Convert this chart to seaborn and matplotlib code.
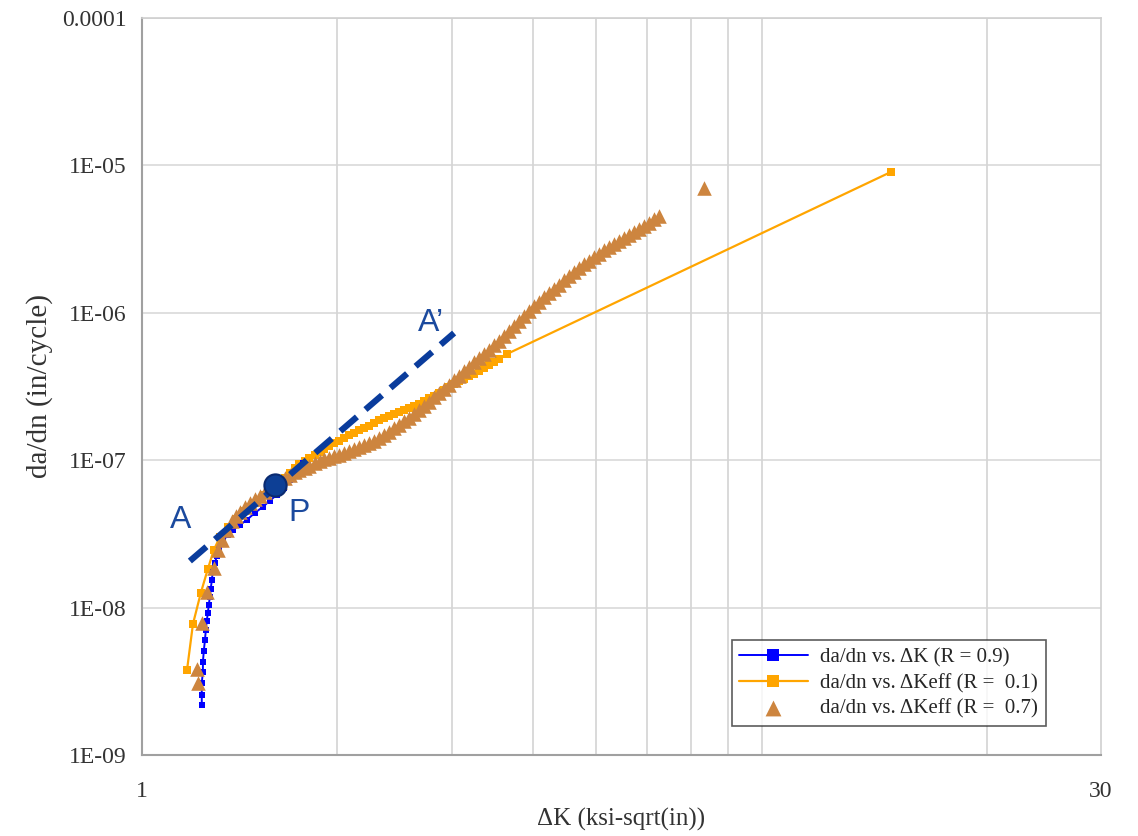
import matplotlib
matplotlib.use("Agg")
import matplotlib.pyplot as plt
import seaborn as sns
import pandas as pd

# da/dn vs dK (R = 0.9)
k_r09 = [1.236, 1.236, 1.236, 1.241, 1.241, 1.245, 1.250, 1.254, 1.258, 1.263, 1.267,
         1.272, 1.276, 1.281, 1.285, 1.295, 1.304, 1.313, 1.332, 1.356, 1.380, 1.414,
         1.450, 1.491, 1.534, 1.572, 1.612, 1.652, 1.688, 1.724, 1.767]
dadn_r09 = [2.18e-9, 2.55e-9, 3.08e-9, 3.66e-9, 4.28e-9, 5.08e-9, 6.03e-9, 7.05e-9, 8.11e-9,
            9.19e-9, 1.04e-8, 1.18e-8, 1.34e-8, 1.54e-8, 1.74e-8, 2.01e-8, 2.24e-8, 2.50e-8,
            2.83e-8, 3.11e-8, 3.36e-8, 3.63e-8, 3.93e-8, 4.38e-8, 4.81e-8, 5.29e-8, 5.81e-8,
            6.48e-8, 7.34e-8, 8.32e-8, 9.57e-8]

# da/dn vs dKeff (R = 0.1)
k_r01 = [1.173, 1.198, 1.232, 1.263, 1.290, 1.318, 1.356, 1.394, 1.439, 1.491, 1.545,
         1.601, 1.629, 1.658, 1.688, 1.718, 1.748, 1.780, 1.811, 1.844, 1.877, 1.910,
         1.944, 1.979, 2.014, 2.050, 2.087, 2.124, 2.162, 2.201, 2.240, 2.280, 2.320,
         2.362, 2.404, 2.447, 2.490, 2.535, 2.580, 2.626, 2.673, 2.721, 2.769, 2.819,
         2.869, 2.920, 2.972, 3.025, 3.079, 3.134, 3.190, 3.247, 3.304, 3.364, 3.423,
         3.485, 3.547, 3.649, 14.24]
dadn_r01 = [3.77e-9, 7.74e-9, 1.26e-8, 1.83e-8, 2.46e-8, 3.01e-8, 3.52e-8, 3.99e-8, 4.52e-8,
            5.12e-8, 5.81e-8, 6.58e-8, 7.06e-8, 7.57e-8, 8.19e-8, 8.85e-8, 9.35e-8, 9.88e-8,
            1.035e-7, 1.085e-7, 1.137e-7, 1.191e-7, 1.248e-7, 1.308e-7, 1.360e-7, 1.414e-7,
            1.471e-7, 1.530e-7, 1.590e-7, 1.654e-7, 1.719e-7, 1.788e-7, 1.859e-7, 1.934e-7,
            1.995e-7, 2.058e-7, 2.123e-7, 2.191e-7, 2.260e-7, 2.332e-7, 2.424e-7, 2.521e-7,
            2.622e-7, 2.727e-7, 2.858e-7, 2.994e-7, 3.138e-7, 3.289e-7, 3.420e-7, 3.556e-7,
            3.698e-7, 3.843e-7, 4.030e-7, 4.222e-7, 4.427e-7, 4.637e-7, 4.863e-7, 5.254e-7,
            9.02e-6]

# da/dn vs dKeff (R = 0.7)
k_r07 = [1.219, 1.215, 1.236, 1.258, 1.290, 1.308,
         1.327, 1.351, 1.375, 1.394, 1.414, 1.439, 1.465, 1.491, 1.518, 1.545, 1.572,
         1.600, 1.629, 1.658, 1.688, 1.718, 1.748, 1.780, 1.811, 1.844, 1.877, 1.910,
         1.944, 1.979, 2.014, 2.050, 2.087, 2.124, 2.162, 2.200, 2.240, 2.279, 2.320,
         2.362, 2.404, 2.447, 2.490, 2.535, 2.580, 2.626, 2.673, 2.720, 2.769, 2.818,
         2.869, 2.920, 2.972, 3.025, 3.079, 3.134, 3.190, 3.247, 3.304, 3.363, 3.423,
         3.485, 3.547, 3.610, 3.674, 3.740, 3.807, 3.874, 3.944, 4.014, 4.086, 4.158,
         4.233, 4.308, 4.385, 4.463, 4.543, 4.624, 4.706, 4.790, 4.876, 4.963, 5.051,
         5.141, 5.233, 5.326, 5.421, 5.518, 5.617, 5.717, 5.819, 5.922, 6.028, 6.136,
         6.245, 7.351]
dadn_r07 = [3.08e-9, 3.83e-9, 7.86e-9, 1.276e-8, 1.857e-8, 2.46e-8,
            2.874e-8, 3.335e-8, 3.868e-8, 4.150e-8, 4.453e-8, 4.777e-8, 5.125e-8, 5.413e-8,
            5.716e-8, 6.038e-8, 6.377e-8, 6.735e-8, 7.114e-8, 7.513e-8, 7.935e-8, 8.251e-8,
            8.580e-8, 8.853e-8, 9.134e-8, 9.498e-8, 9.876e-8, 1.011e-7, 1.035e-7, 1.060e-7,
            1.085e-7, 1.119e-7, 1.155e-7, 1.191e-7, 1.229e-7, 1.268e-7, 1.308e-7, 1.360e-7,
            1.414e-7, 1.482e-7, 1.553e-7, 1.641e-7, 1.733e-7, 1.830e-7, 1.933e-7, 2.058e-7,
            2.191e-7, 2.332e-7, 2.482e-7, 2.664e-7, 2.858e-7, 3.042e-7, 3.237e-7, 3.473e-7,
            3.727e-7, 3.999e-7, 4.291e-7, 4.604e-7, 4.940e-7, 5.258e-7, 5.596e-7, 6.000e-7,
            6.438e-7, 6.960e-7, 7.525e-7, 8.139e-7, 8.798e-7, 9.512e-7, 1.0285e-6, 1.1034e-6,
            1.1838e-6, 1.2702e-6, 1.3629e-6, 1.4505e-6, 1.5438e-6, 1.6564e-6, 1.7772e-6,
            1.8915e-6, 2.0135e-6, 2.1267e-6, 2.2462e-6, 2.3725e-6, 2.5055e-6, 2.6465e-6,
            2.7952e-6, 2.9292e-6, 3.0697e-6, 3.2168e-6, 3.3711e-6, 3.5327e-6, 3.7021e-6,
            3.8797e-6, 4.0658e-6, 4.2948e-6, 4.5360e-6, 7.03e-6]

# line A - A' and point P
k_line = [1.185, 3.025]
dadn_line = [2.07e-8, 7.29e-7]
k_p = [1.6005]
dadn_p = [6.79e-8]

series_labels = ["da/dn vs. \u0394K (R = 0.9)",
                 "da/dn vs. \u0394Keff (R =  0.1)",
                 "da/dn vs. \u0394Keff (R =  0.7)"]
ytick_vals = [1e-9, 1e-8, 1e-7, 1e-6, 1e-5, 1e-4]
ytick_labels = ["1E-09", "1E-08", "1E-07", "1E-06", "1E-05", "0.0001"]
xgrid_vals = [2, 3, 4, 5, 6, 7, 8, 9, 20]

sns.set_style("white")
plt.rcParams["font.family"] = ["Liberation Serif", "DejaVu Serif"]

fig, ax = plt.subplots(figsize=(11.38, 8.36), dpi=100)
fig.subplots_adjust(left=0.1248, right=0.9675, top=0.9785, bottom=0.0969)

df09 = pd.DataFrame({"k": k_r09, "v": dadn_r09})
df01 = pd.DataFrame({"k": k_r01, "v": dadn_r01})
df07 = pd.DataFrame({"k": k_r07, "v": dadn_r07})

sns.lineplot(data=df01, x="k", y="v", sort=False, estimator=None, color="#ffa500",
             marker="s", markersize=6, markeredgewidth=0, linewidth=1.6,
             label=series_labels[1], ax=ax, zorder=3)
sns.lineplot(data=df09, x="k", y="v", sort=False, estimator=None, color="#0000ff",
             marker="s", markersize=5, markeredgewidth=0, linewidth=1.4,
             label=series_labels[0], ax=ax, zorder=4)
sns.scatterplot(data=df07, x="k", y="v", color="#cd853f", marker="^", s=110,
                linewidth=0, label=series_labels[2], ax=ax, zorder=5)

sns.lineplot(x=k_line, y=dadn_line, color="#0a3c9c", linewidth=4.5,
             linestyle=(0, (3.5, 1.8)), ax=ax, zorder=6, legend=False)
ax.plot(k_p, dadn_p, marker="o", markersize=16, color="#0d3f95",
        markeredgecolor="#0a2a70", markeredgewidth=1.5, zorder=7)

txt = dict(family=["Liberation Sans", "DejaVu Sans"], fontsize=23, color="#1b4a9e",
           ha="center", va="center", zorder=8)
ax.text(1.148, 3.9e-8, "A", **txt)
ax.text(1.745, 4.4e-8, "P", **txt)
ax.text(2.79, 8.5e-7, "A\u2019", **txt)

ax.set_xscale("log")
ax.set_yscale("log")
ax.set_xlim(1, 30)
ax.set_ylim(1e-9, 1e-4)

ax.set_xticks([1, 30])
ax.set_xticklabels(["1", "30"])
ax.set_xticks(xgrid_vals, minor=True)
ax.set_xticklabels([], minor=True)
ax.set_yticks(ytick_vals)
ax.set_yticklabels(ytick_labels)
ax.yaxis.set_minor_locator(matplotlib.ticker.NullLocator())
ax.tick_params(axis="x", which="minor", length=0)
ax.tick_params(axis="both", which="major", direction="out", length=7, width=1.2,
               color="#a0a0a0", labelsize=17, labelcolor="#333333")
ax.tick_params(axis="x", which="major", pad=12)
ax.tick_params(axis="y", which="major", pad=4)

ax.grid(axis="y", which="major", color="#d6d6d6", linewidth=1.1)
ax.grid(axis="x", which="minor", color="#cfcfcf", linewidth=1.1)
ax.set_axisbelow(True)

for side in ["left", "bottom"]:
    ax.spines[side].set_color("#a0a0a0")
    ax.spines[side].set_linewidth(1.5)
for side in ["top", "right"]:
    ax.spines[side].set_color("#cfcfcf")
    ax.spines[side].set_linewidth(1.2)

ax.set_xlabel("\u0394K (ksi-sqrt(in))", fontsize=18, color="#333333")
ax.set_ylabel("da/dn (in/cycle)", fontsize=21, color="#333333")
ax.xaxis.set_label_coords(0.5, -0.072)
ax.yaxis.set_label_coords(-0.093, 0.5)

handles, labels = ax.get_legend_handles_labels()
order = [labels.index(l) for l in series_labels]
leg = ax.legend([handles[i] for i in order], [labels[i] for i in order],
                loc="lower left", bbox_to_anchor=(0.615, 0.039), borderaxespad=0,
                fontsize=15, frameon=True, fancybox=False, handlelength=3.3,
                labelspacing=0.3, handletextpad=0.6, borderpad=0.35)
leg.get_frame().set_edgecolor("#333333")
leg.get_frame().set_linewidth(1.2)
leg.set_zorder(10)
for h in leg.legend_handles[:2]:
    h.set_markersize(9)
leg.legend_handles[2].set_sizes([130])

plt.savefig("out.png", dpi=100)
